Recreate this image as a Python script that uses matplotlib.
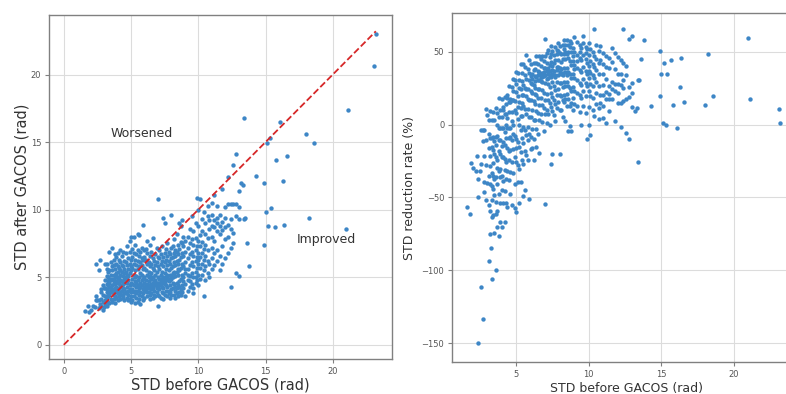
import numpy as np
import matplotlib.pyplot as plt

before_low = [1.6, 1.8, 1.9, 2.0, 2.2, 2.3, 2.4, 2.4, 2.4, 2.5] \
    + [2.6]*3 + [2.7]*3 + [2.8]*4 + [2.9]*4 + [3.0]*2 \
    + [3.1]*6 + [3.2]*7 + [3.3]*7 + [3.4]*7 + [3.5]*6 + [3.35, 3.25] \
    + [3.6]*8 + [3.7]*8 + [3.8]*8 + [3.9]*8 + [4.0]*8
after_low = [2.5, 2.9, 2.4, 2.6, 2.9, 2.8, 6.0, 3.3, 3.6, 3.3,
             5.5, 2.7, 3.3, 6.3, 3.0, 2.8, 3.9, 4.1, 3.4, 2.9, 3.7, 4.4, 2.6, 3.2, 2.8, 4.2,
             6.0, 3.0, 3.6, 4.2, 4.8, 3.3,
             5.6, 2.9, 3.9, 4.5, 5.1, 3.5, 4.1,
             3.2, 3.8, 4.4, 5.0, 4.7, 3.6, 5.4,
             3.1, 3.7, 4.3, 4.9, 5.5, 4.0, 4.6,
             3.4, 4.2, 4.8, 5.2, 3.9, 6.1,
             6.9, 6.0,
             7.2, 3.2, 3.9, 4.4, 4.9, 5.5, 4.1, 5.8,
             3.4, 4.0, 4.6, 5.2, 5.9, 3.7, 4.8, 6.3,
             6.7, 3.1, 3.9, 4.5, 5.0, 5.6, 4.2, 3.6,
             3.5, 4.3, 4.7, 5.3, 6.0, 4.0, 5.1, 6.5,
             6.8, 3.3, 4.1, 4.6, 5.4, 5.8, 4.9, 3.8]

before_mid = [4.1]*7 + [4.2]*8 + [4.3]*7 + [4.4]*7 + [4.5]*8 + [4.6]*7 + [4.7]*7 \
    + [4.8]*7 + [4.9]*7 + [5.0]*8 + [5.1]*7 + [5.2]*7 + [5.3]*7 + [5.4]*7 + [5.5]*8 \
    + [5.6]*7 + [5.7]*7 + [5.8]*7 + [5.9]*7 + [6.0]*8 + [6.1]*7 + [6.2]*7 + [6.3]*7 \
    + [6.4]*7 + [6.5]*8 + [6.6]*7 + [6.7]*7 + [6.8]*7 + [6.9]*7 + [7.0]*8
after_mid = [3.6, 4.2, 5.0, 5.7, 6.3, 4.6, 3.7,
             3.4, 4.4, 5.2, 6.1, 4.8, 3.9, 5.5, 7.0,
             3.7, 4.0, 4.7, 5.4, 6.6, 5.9, 4.3,
             3.6, 4.5, 5.1, 5.8, 6.9, 4.2, 3.5,
             3.3, 4.1, 4.9, 5.6, 6.2, 5.3, 4.6, 3.8,
             3.8, 3.9, 4.7, 5.4, 6.1, 5.0, 6.8,
             3.5, 4.3, 5.2, 5.9, 7.3, 4.6, 3.9,
             3.3, 4.0, 4.8, 5.6, 6.4, 5.1, 3.7,
             3.4, 4.4, 5.3, 6.0, 6.9, 4.1, 7.7,
             3.2, 3.9, 4.6, 5.5, 6.3, 5.8, 3.6, 8.0,
             3.3, 4.1, 4.9, 5.7, 6.5, 4.5, 7.1,
             8.0, 3.6, 4.4, 5.2, 6.0, 6.8, 3.9,
             3.1, 4.0, 4.7, 5.5, 6.3, 5.0, 7.4,
             3.5, 4.3, 5.1, 5.9, 6.7, 4.6, 3.8,
             8.2, 3.2, 4.0, 4.8, 5.6, 6.2, 7.0, 4.4,
             3.4, 4.2, 5.0, 5.8, 6.6, 3.7, 8.1,
             3.0, 3.9, 4.6, 5.3, 6.1, 6.9, 4.3,
             3.6, 4.4, 5.2, 5.9, 6.4, 4.8, 7.2,
             3.3, 4.1, 4.9, 5.6, 6.3, 3.8, 8.9,
             3.5, 4.3, 5.0, 5.7, 6.5, 7.0, 4.6, 4.0,
             4.2, 4.0, 4.8, 5.5, 6.3, 7.1, 4.4,
             3.6, 4.5, 5.2, 6.0, 6.8, 3.9, 7.7,
             4.4, 3.9, 4.7, 5.4, 6.1, 5.0, 4.2,
             3.4, 4.3, 5.1, 5.8, 6.6, 7.4, 3.7,
             4.3, 3.8, 4.5, 5.3, 6.0, 6.9, 4.9, 4.1,
             3.5, 4.2, 5.0, 5.7, 6.4, 4.6, 7.9,
             4.5, 4.0, 4.7, 5.5, 6.2, 4.4, 3.7,
             3.6, 4.4, 5.2, 5.9, 6.7, 4.6, 4.8,
             4.4, 3.9, 4.6, 5.4, 6.1, 7.2, 4.2,
             10.8, 4.6, 4.3, 5.0, 5.8, 6.5, 3.7, 2.9]

before_high = [7.1]*7 + [7.2]*7 + [7.3]*7 + [7.4]*7 + [7.5]*8 + [7.6]*7 + [7.7]*7 \
    + [7.8]*7 + [7.9]*7 + [8.0]*8 + [8.1]*7 + [8.2]*7 + [8.3]*7 + [8.4]*7 + [8.5]*7 \
    + [8.6]*7 + [8.7]*7 + [8.8]*7 + [8.9]*7 + [9.0]*7 + [9.2]*7 + [9.4]*7 + [9.5]*6 \
    + [9.6]*7 + [9.8]*7 + [9.9]*5 + [10.0]*8 + [10.1]*6 + [10.3]*6 + [10.4]*5 \
    + [10.5]*6 + [10.7]*6 + [10.8]*4 + [11.0]*7 + [11.2]*6 + [11.4]*6 + [11.6]*5 \
    + [11.8]*5 + [12.0]*5 + [12.2]*5 + [12.4]*5 + [12.6]*4 + [12.8]*4 + [13.0]*4
after_high = [4.5, 4.1, 4.9, 5.6, 6.4, 3.6, 7.0,
              3.5, 4.4, 5.2, 6.0, 6.7, 4.9, 4.7,
              4.8, 3.9, 4.6, 5.4, 6.2, 7.3, 4.3,
              9.4, 3.4, 4.2, 5.0, 5.8, 6.5, 3.8,
              4.7, 3.7, 4.5, 5.3, 6.1, 6.8, 4.9, 9.0,
              5.0, 4.0, 4.8, 5.6, 6.3, 7.1, 4.4,
              3.6, 4.3, 5.1, 5.9, 6.6, 5.2, 7.5,
              4.9, 4.0, 4.7, 5.5, 6.2, 6.9, 3.8,
              3.5, 4.4, 5.2, 6.0, 6.7, 4.8, 3.9,
              9.6, 5.1, 4.1, 4.9, 5.7, 6.4, 7.2, 3.7,
              5.3, 4.2, 5.0, 5.8, 6.5, 7.3, 4.6,
              3.7, 4.5, 5.3, 6.1, 6.8, 5.4, 7.8,
              3.5, 4.3, 5.1, 5.9, 6.6, 4.0, 7.0,
              3.8, 4.6, 5.4, 6.2, 6.9, 4.2, 8.2,
              3.6, 4.4, 5.2, 6.0, 6.7, 7.4, 5.6,
              9.0, 3.9, 4.7, 5.5, 6.3, 7.1, 4.3,
              8.8, 4.1, 4.9, 5.7, 6.5, 7.6, 3.7,
              4.4, 5.2, 6.0, 6.8, 7.5, 3.9, 9.2,
              4.2, 5.0, 5.8, 6.6, 7.3, 4.7, 8.0,
              3.6, 4.5, 5.3, 6.1, 6.9, 7.7, 5.6,
              4.0, 4.8, 5.6, 6.4, 7.2, 8.0, 5.2,
              4.3, 5.1, 5.9, 6.7, 7.5, 8.6, 4.7,
              9.5, 4.5, 5.3, 6.1, 6.9, 7.8,
              4.2, 5.0, 5.8, 6.6, 7.4, 8.4, 3.8,
              4.6, 5.4, 6.2, 7.0, 7.9, 5.0, 9.0,
              10.9, 4.8, 5.7, 6.5, 7.3,
              4.4, 5.2, 6.0, 6.8, 7.7, 8.8, 10.0, 6.3,
              10.8, 4.9, 5.7, 6.5, 7.3, 8.1,
              5.2, 6.0, 6.8, 7.6, 8.4, 9.3,
              3.6, 5.5, 6.3, 7.1, 9.8,
              4.8, 5.8, 6.6, 7.4, 8.2, 9.0,
              5.3, 6.2, 7.0, 7.9, 9.5, 10.3,
              5.0, 6.0, 8.6, 9.2,
              5.6, 6.4, 7.2, 8.0, 8.8, 9.6, 10.5,
              5.9, 6.8, 7.7, 8.7, 9.2, 11.1,
              6.2, 7.0, 8.4, 9.0, 9.4, 10.3,
              5.5, 6.6, 8.2, 8.8, 9.6,
              6.0, 7.3, 8.5, 9.1, 11.5,
              6.4, 7.8, 8.7, 9.4, 10.2,
              6.8, 8.0, 8.9, 12.4, 10.4,
              4.3, 7.2, 8.6, 10.4, 9.3,
              7.5, 8.3, 10.4, 13.3,
              5.3, 9.5, 10.4, 14.1,
              5.1, 9.3, 11.4, 10.2]

# sparse points with large STD
before_out = [13.4, 13.4, 13.3, 13.6, 13.8, 14.3, 13.5, 13.2, 14.9, 14.9, 15.0, 15.1, 15.3, 15.4,
              15.2, 15.7, 15.8, 16.1, 16.3, 16.4, 16.6, 18.0, 18.2, 18.6, 21.0, 21.1, 23.1, 23.2]
after_out = [16.8, 9.3, 11.8, 7.5, 5.8, 12.5, 9.4, 12.0, 7.4, 12.0, 9.8, 14.9, 15.3, 10.1,
             8.8, 8.7, 13.7, 16.5, 12.1, 8.9, 14.0, 15.6, 9.4, 14.9, 8.6, 17.4, 20.6, 23.0]

before = np.array(before_low + before_mid + before_high + before_out)
after = np.array(after_low + after_mid + after_high + after_out)
# reduction rate of the STD (%)
reduction = (before - after) / before * 100

dot_color = '#3d86c6'
grid_color = '#dcdcdc'
spine_color = '#808080'
text_color = '#333333'

fig = plt.figure(figsize=(7.86, 3.94), dpi=100)

# left: before vs after
ax1 = fig.add_axes([0.0623, 0.0888, 0.4364, 0.873])
ax1.scatter(before, after, s=10, color=dot_color, linewidths=0, zorder=2)
ax1.plot([0, before.max()], [0, before.max()], '--', color='#d62728', lw=1.3, zorder=3)
ax1.set_xlim(-1.1, 24.4)
ax1.set_ylim(-1.05, 24.4)
ax1.set_xticks([0, 5, 10, 15, 20])
ax1.set_yticks([0, 5, 10, 15, 20])
ax1.text(5.8, 15.6, 'Worsened', ha='center', va='center', fontsize=9, color=text_color)
ax1.text(19.5, 7.8, 'Improved', ha='center', va='center', fontsize=9, color=text_color)
ax1.set_xlabel('STD before GACOS (rad)', fontsize=10.5, color=text_color)
ax1.set_ylabel('STD after GACOS (rad)', fontsize=10.5, color=text_color, va='center')
ax1.xaxis.set_label_coords(0.5, -0.055)
ax1.yaxis.set_label_coords(-0.079, 0.5)

# right: reduction rate
ax2 = fig.add_axes([0.575, 0.0812, 0.4433, 0.8858])
ax2.scatter(before, reduction, s=10, color=dot_color, linewidths=0, zorder=2)
ax2.set_xlim(0.57, 24.6)
ax2.set_ylim(-162.8, 76.5)
ax2.set_xticks([5, 10, 15, 20])
ax2.set_yticks([-150, -100, -50, 0, 50])
ax2.set_xlabel('STD before GACOS (rad)', fontsize=9, color=text_color)
ax2.set_ylabel('STD reduction rate (%)', fontsize=9, color=text_color, va='center')
ax2.xaxis.set_label_coords(0.5, -0.056)
ax2.yaxis.set_label_coords(-0.123, 0.5)

for ax in (ax1, ax2):
    ax.grid(True, color=grid_color, lw=0.8, zorder=0)
    ax.set_axisbelow(True)
    ax.tick_params(labelsize=6, labelcolor='#555555', length=3, width=0.8,
                   color=spine_color, pad=2.5)
    for sp in ax.spines.values():
        sp.set_color(spine_color)
        sp.set_linewidth(1.0)

plt.savefig('out.png', dpi=100)
